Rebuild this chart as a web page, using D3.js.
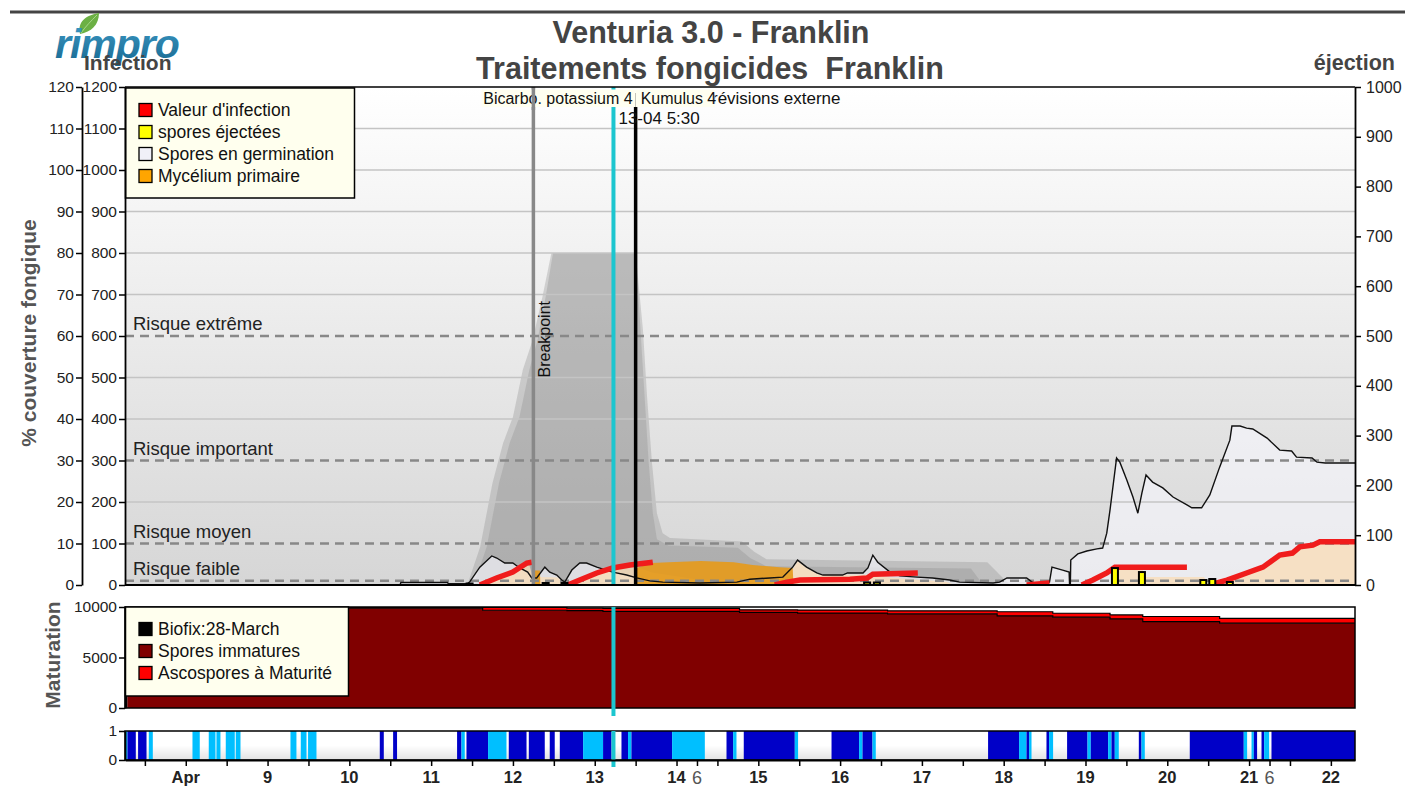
<!DOCTYPE html>
<html><head><meta charset="utf-8">
<script src="https://cdn.jsdelivr.net/npm/d3@7"></script>
<style>
body{margin:0;background:#fff;}
svg{font-family:"Liberation Sans",Arial,sans-serif;}
</style>
</head><body>
<svg id="c" width="1405" height="793"></svg>
<script>
// ---------------- DATA (x = day of April, decimal) ----------------
const dayDomain = [7.257, 22.295];
const dayLabels = [[8,"Apr"],[9,"9"],[10,"10"],[11,"11"],[12,"12"],[13,"13"],[14,"14"],[15,"15"],[16,"16"],[17,"17"],[18,"18"],[19,"19"],[20,"20"],[21,"21"],[22,"22"]];
const hourLabels = [[14.25,"6"],[21.25,"6"]];
const leftTicks = d3.range(0,1201,100);
const pctTicks = d3.range(0,121,10);
const rightTicks = d3.range(0,1001,100);
const matTicks = [0,5000,10000];
const wetTicks = [0,1];

const riskLevels = [[600,"Risque extrême"],[300,"Risque important"],[100,"Risque moyen"],[10,"Risque faible"]];
const gridValues = [200,400,500,700,800,900,1000,1100];

// Spores en germination (left scale 0-1200)
const germination = [[7.257,0],[10.62,0],[10.63,6],[11.2,6],[11.21,3],[11.44,3],[11.47,7],[11.595,43],[11.741,70],[11.802,65],[11.90,53],[11.998,53],[12.084,41],[12.18,31],[12.23,17],[12.29,17],[12.39,43],[12.45,31],[12.536,24],[12.597,12],[12.634,7],[12.72,36],[12.817,53],[12.90,53],[13.025,43],[13.22,31],[13.39,24],[13.514,17],[13.673,10],[13.832,7],[14.284,5],[14.737,7],[14.896,14],[15.14,17],[15.30,19],[15.42,43],[15.48,60],[15.59,43],[15.715,29],[15.79,24],[16.03,24],[16.09,29],[16.28,29],[16.34,41],[16.40,72],[16.46,55],[16.61,31],[16.73,22],[16.94,19],[17.13,17],[17.34,12],[17.46,7],[17.87,5],[17.95,7],[18.04,17],[18.28,17],[18.36,5],[18.53,5],[18.56,7],[18.59,43],[18.72,36],[18.80,31],[18.805,3],[18.815,3],[18.82,60],[18.906,75],[19.016,82],[19.14,87],[19.21,89],[19.26,125],[19.30,181],[19.38,306],[19.42,296],[19.505,253],[19.58,212],[19.64,173],[19.69,222],[19.74,265],[19.82,248],[19.945,234],[20.07,212],[20.24,193],[20.30,186],[20.42,186],[20.52,217],[20.64,284],[20.765,349],[20.79,383],[20.89,383],[20.97,378],[21.045,376],[21.22,354],[21.375,325],[21.52,323],[21.58,308],[21.77,306],[21.83,296],[21.93,294],[22.295,294]];

// light incubation fill under infection
const incubation = [[11.62,0],[11.75,12],[12.0,30],[12.2,48],[12.24,20],[12.55,18],[12.64,0],[12.72,8],[12.9,22],[13.1,33],[13.3,40],[13.5,45],[13.7,30],[14.3,12],[15.0,12],[15.35,15],[15.48,58],[15.6,40],[15.75,25],[16.3,25],[16.45,25],[16.6,18],[17.0,12],[17.3,8],[17.4,0],[19.32,0],[19.33,41],[19.7,41],[19.71,19],[20.45,19],[20.5,0],[20.52,0],[20.73,12],[20.97,29],[21.17,43],[21.375,72],[21.53,77],[21.62,92],[21.78,96],[21.865,104],[22.295,104]];

// Mycélium primaire
const mycelium = [[12.26,0],[12.265,35],[12.33,35],[12.335,0],[13.50,0],[13.505,41],[13.7,53],[13.9,55],[14.3,58],[14.7,55],[14.93,48],[15.26,43],[15.42,41],[15.43,0]];

// fungicide coverage (two treatments)
const coverBicarbo = [[11.40,0],[11.45,5],[11.6,92],[11.75,246],[11.88,342],[12.0,405],[12.12,518],[12.24,590],[12.36,694],[12.47,800],[13.5,800],[13.59,614],[13.64,453],[13.70,294],[13.76,173],[13.83,125],[13.92,113],[14.8,105],[14.95,80],[15.1,62],[17.8,55],[18.0,15],[18.08,0]];
const coverKumulus = [[11.52,0],[11.68,92],[11.83,246],[11.96,342],[12.08,405],[12.2,518],[12.3,590],[12.4,694],[12.49,800],[13.5,800],[13.56,614],[13.61,453],[13.66,294],[13.71,173],[13.76,110],[13.9,95],[14.75,90],[14.9,65],[15.1,45],[17.6,40],[17.75,0]];

// Valeur d'infection (segments)
const infection = [
 [[11.595,0],[11.80,17],[11.998,31],[12.17,53],[12.23,55]],
 [[12.67,0],[12.817,12],[13.025,29],[13.22,41],[13.43,48],[13.71,55]],
 [[15.20,0],[15.35,7],[15.51,12],[16.12,14],[16.33,17],[16.40,26],[16.95,29]],
 [[18.28,0],[18.56,5]],
 [[18.955,0],[19.09,12],[19.26,29],[19.36,43],[20.24,43]],
 [[20.52,0],[20.73,12],[20.97,29],[21.17,43],[21.375,72],[21.53,77],[21.62,92],[21.78,96],[21.865,104],[22.295,104]]
];

// spores éjectées (right scale 0-1000)
const ejection = [[11.47,3],[12.40,4],[12.63,4],[16.33,5],[16.45,5],[19.36,34],[19.69,26],[20.44,10],[20.55,12],[20.765,6]];

// markers
const breakpointDay = 12.25;
const nowDay = 13.229;      // 13-04 5:30
const treatmentDay = 13.5;

// Maturation (step values)
const matStart    = [7.285, 11.63, 12.66, 13.10, 14.77, 15.48, 16.58, 17.92, 18.60, 19.30, 19.70, 20.64];
const matTotal    = [9990, 9960, 9880, 9860, 9720, 9700, 9620, 9530, 9380, 9220, 9060, 8880];
const matImmature = [9880, 9680, 9650, 9560, 9460, 9400, 9320, 9120, 8990, 8820, 8560, 8400];
const biofix = [[7.257,10000],[7.285,10000]];

// wetness intervals [start, end, type] 2 = wet, 1 = light
const wetness = [[7.257,7.287,1],[7.287,7.389,2],[7.417,7.52,2],[7.548,7.597,1],[8.082,8.171,1],[8.281,8.363,1],[8.375,8.424,1],[8.489,8.599,1],[8.611,8.669,1],[9.28,9.353,1],[9.406,9.476,1],[9.495,9.598,1],[10.372,10.421,2],[10.535,10.583,2],[11.317,11.371,2],[11.371,11.411,1],[11.432,11.696,2],[11.696,11.921,1],[11.949,12.166,2],[12.194,12.389,2],[12.45,12.511,2],[12.573,12.858,2],[12.858,13.102,1],[13.102,13.205,2],[13.327,13.407,2],[13.407,13.449,1],[13.449,13.946,2],[13.946,14.346,1],[14.611,14.692,2],[14.692,14.733,1],[14.822,15.446,2],[15.446,15.486,1],[15.895,16.232,2],[16.232,16.274,1],[16.274,16.396,2],[16.396,16.436,1],[17.809,18.188,2],[18.188,18.279,1],[18.279,18.31,2],[18.31,18.34,1],[18.523,18.555,2],[18.555,18.604,1],[18.775,19.025,2],[19.025,19.065,1],[19.065,19.277,2],[19.277,19.318,1],[19.318,19.358,2],[19.358,19.407,1],[19.652,19.685,2],[19.685,19.725,1],[20.275,20.935,2],[20.935,20.976,1],[21.03,21.058,1],[21.058,21.098,2],[21.152,21.184,2],[21.184,21.245,1],[21.274,22.295,2]];

const legend1 = [["Valeur d'infection","#ff0000"],["spores éjectées","#ffff00"],["Spores en germination","#f0f0f8"],["Mycélium primaire","#ffa500"]];
const legend2 = [["Biofix:28-March","#000000"],["Spores immatures","#800000"],["Ascospores à Maturité","#ff0000"]];

// ---------------- LAYOUT ----------------
const L=125, R=1355, T=87, B=585, MT=607, MB=708, ST=731, SB=760;
const FONT='"Liberation Sans",Arial,sans-serif';
const svg = d3.select("#c");

const x = d3.scaleLinear().domain(dayDomain).range([L,R]);
const yL = d3.scaleLinear().domain([0,1200]).range([B,T]);
const yP = d3.scaleLinear().domain([0,120]).range([B,T]);
const yR = d3.scaleLinear().domain([0,1000]).range([B,T]);
const yM = d3.scaleLinear().domain([0,10000]).range([MB,MT]);
const yW = d3.scaleLinear().domain([0,1]).range([SB,ST]);
const fmt = d3.format("d");

const defs = svg.append("defs");
const g1 = defs.append("linearGradient").attr("id","bgMain").attr("x1",0).attr("y1",0).attr("x2",0).attr("y2",1);
g1.append("stop").attr("offset","0%").attr("stop-color","#ffffff");
g1.append("stop").attr("offset","100%").attr("stop-color","#d6d6d6");
const g2 = defs.append("linearGradient").attr("id","bgStrip").attr("x1",0).attr("y1",0).attr("x2",0).attr("y2",1);
g2.append("stop").attr("offset","0%").attr("stop-color","#ffffff");
g2.append("stop").attr("offset","50%").attr("stop-color","#ffffff");
g2.append("stop").attr("offset","100%").attr("stop-color","#e2e2e2");
const g3 = defs.append("linearGradient").attr("id","logoG").attr("x1",0).attr("y1",0).attr("x2",0).attr("y2",1);
g3.append("stop").attr("offset","0%").attr("stop-color","#3d9ac6");
g3.append("stop").attr("offset","100%").attr("stop-color","#17678f");
defs.append("clipPath").attr("id","clipMain").append("rect").attr("x",L).attr("y",T).attr("width",R-L).attr("height",B-T);
defs.append("clipPath").attr("id","clipMat").append("rect").attr("x",L).attr("y",MT).attr("width",R-L).attr("height",MB-MT);

// top rule
svg.append("line").attr("x1",10).attr("x2",1405).attr("y1",12).attr("y2",12).attr("stroke","#444").attr("stroke-width",3);

// logo
svg.append("path").attr("d","M80,34 C77,22 86,15 99,13 C99,25 91,32 80,34 Z").attr("fill","#6cb044");
svg.append("path").attr("d","M81,33 C86,26 91,21 97,15").attr("stroke","#a8d88a").attr("stroke-width",1).attr("fill","none");
svg.append("text").attr("x",55).attr("y",58).attr("font-family",FONT).attr("font-size",41).attr("font-weight","bold").attr("font-style","italic").attr("letter-spacing",-1).attr("fill","url(#logoG)").text("rimpro");

// titles
svg.append("text").attr("x",711).attr("y",43).attr("text-anchor","middle").attr("font-family",FONT).attr("font-weight","bold").attr("font-size",30.5).attr("fill","#444").text("Venturia 3.0 - Franklin");
svg.append("text").attr("x",710).attr("y",79).attr("text-anchor","middle").attr("font-family",FONT).attr("font-weight","bold").attr("font-size",30.5).attr("fill","#444").style("white-space","pre").text("Traitements fongicides  Franklin");
svg.append("text").attr("x",84).attr("y",70).attr("font-family",FONT).attr("font-weight","bold").attr("font-size",21).attr("fill","#444").text("Infection");
svg.append("text").attr("x",1395).attr("y",70).attr("text-anchor","end").attr("font-family",FONT).attr("font-weight","bold").attr("font-size",21.5).attr("fill","#444").text("éjection");

// main background
svg.append("rect").attr("x",L).attr("y",T).attr("width",R-L).attr("height",B-T).attr("fill","url(#bgMain)");

const main = svg.append("g").attr("clip-path","url(#clipMain)");
const areaL = d3.area().x(d=>x(d[0])).y0(yL(0)).y1(d=>yL(d[1]));
const lineL = d3.line().x(d=>x(d[0])).y(d=>yL(d[1]));

[coverBicarbo, coverKumulus].forEach(c=>{
  main.append("path").datum(c).attr("d",areaL).attr("fill","#8c8c8c").attr("fill-opacity",0.32);
});
main.append("path").datum(germination).attr("d",areaL).attr("fill","#f4f4fa").attr("fill-opacity",0.68);
main.append("path").datum(incubation).attr("d",areaL).attr("fill","#f9dcb6").attr("fill-opacity",0.75);
main.append("path").datum(mycelium).attr("d",areaL).attr("fill","#e59a1c").attr("fill-opacity",0.92);
// grid
main.selectAll(".grid").data(gridValues).enter().append("line")
  .attr("x1",L).attr("x2",R).attr("y1",d=>yL(d)).attr("y2",d=>yL(d))
  .attr("stroke","#c4c4c4").attr("stroke-width",1.3);
// risk lines
main.selectAll(".risk").data(riskLevels).enter().append("line")
  .attr("x1",L).attr("x2",R).attr("y1",d=>yL(d[0])).attr("y2",d=>yL(d[0]))
  .attr("stroke","#888").attr("stroke-width",2.5).attr("stroke-dasharray","9,6");
svg.selectAll(".risklab").data(riskLevels).enter().append("text")
  .attr("x",L+8).attr("y",d=>yL(d[0])-6).attr("font-family",FONT).attr("font-size",18.5).attr("fill","#222").text(d=>d[1]);

// germination outline
main.append("path").datum(germination).attr("d",lineL).attr("fill","none").attr("stroke","#111").attr("stroke-width",1.4);
// infection
infection.forEach(seg=>{
  main.append("path").datum(seg).attr("d",lineL).attr("fill","none").attr("stroke","#f01c1c").attr("stroke-width",5.5);
});
// ejection bars
main.selectAll(".ej").data(ejection).enter().append("rect")
  .attr("x",d=>x(d[0])-3).attr("width",6).attr("y",d=>yR(d[1])).attr("height",d=>B-yR(d[1]))
  .attr("fill","#ffff00").attr("stroke","#000").attr("stroke-width",2);

// markers
svg.append("line").attr("x1",x(breakpointDay)).attr("x2",x(breakpointDay)).attr("y1",T).attr("y2",B).attr("stroke","#888").attr("stroke-width",3.5);
svg.append("text").attr("transform",`translate(${x(breakpointDay)+17},${yL(500)}) rotate(-90)`).attr("font-family",FONT).attr("font-size",16).attr("fill","#111").text("Breakpoint");
svg.append("line").attr("x1",x(treatmentDay)).attr("x2",x(treatmentDay)).attr("y1",T+6).attr("y2",B).attr("stroke","#000").attr("stroke-width",3.5);
svg.append("line").attr("x1",x(nowDay)).attr("x2",x(nowDay)).attr("y1",T).attr("y2",B).attr("stroke","#1cc6cf").attr("stroke-width",4);
// treatment labels
svg.append("text").attr("x",x(treatmentDay)+65).attr("y",104).attr("font-family",FONT).attr("font-size",17).attr("fill","#111").text("Prévisions externe");
svg.append("rect").attr("x",x(treatmentDay)-154).attr("y",89.5).attr("width",154).attr("height",17.5).attr("fill","#fffff0");
svg.append("rect").attr("x",x(treatmentDay)).attr("y",89.5).attr("width",79).attr("height",17.5).attr("fill","#fffff0");
svg.append("text").attr("x",x(treatmentDay)-3).attr("y",104).attr("text-anchor","end").attr("font-family",FONT).attr("font-size",16).attr("fill","#111").text("Bicarbo. potassium 4");
svg.append("text").attr("x",x(treatmentDay)+5).attr("y",104).attr("font-family",FONT).attr("font-size",16).attr("fill","#111").text("Kumulus 4");
svg.append("line").attr("x1",x(breakpointDay)).attr("x2",x(breakpointDay)).attr("y1",T).attr("y2",110).attr("stroke","#888").attr("stroke-width",3.5);
svg.append("text").attr("x",x(nowDay)+5).attr("y",124).attr("font-family",FONT).attr("font-size",17).attr("fill","#111").text("13-04 5:30");

// legend 1
const lg1 = svg.append("g");
lg1.append("rect").attr("x",L+0.5).attr("y",T+1).attr("width",229).attr("height",110).attr("fill","#ffffee").attr("stroke","#000").attr("stroke-width",1.5);
legend1.forEach((d,i)=>{
  const cy = 110 + i*22;
  lg1.append("rect").attr("x",139).attr("y",cy-6.5).attr("width",13).attr("height",13).attr("fill",d[1]).attr("stroke","#000").attr("stroke-width",1.3);
  lg1.append("text").attr("x",158).attr("y",cy+6).attr("font-family",FONT).attr("font-size",17.5).attr("fill","#111").text(d[0]);
});

// axes main
function styleAxis(g, fs){
  g.attr("font-family",FONT).attr("font-size",fs);
  g.selectAll("text").attr("fill","#222");
  g.selectAll("line").attr("stroke","#000").attr("stroke-width",1.5);
  g.select(".domain").attr("stroke","#000").attr("stroke-width",1.8);
}
styleAxis(svg.append("g").attr("transform",`translate(${L},0)`).call(d3.axisLeft(yL).tickValues(leftTicks).tickFormat(fmt).tickSize(6).tickPadding(2).tickSizeOuter(0)),15.5);
styleAxis(svg.append("g").attr("transform",`translate(82,0)`).call(d3.axisLeft(yP).tickValues(pctTicks).tickFormat(fmt).tickSize(6).tickPadding(2).tickSizeOuter(0)),15.5);
styleAxis(svg.append("g").attr("transform",`translate(${R},0)`).call(d3.axisRight(yR).tickValues(rightTicks).tickFormat(fmt).tickSize(6).tickPadding(5).tickSizeOuter(0)),16);
svg.append("line").attr("x1",L).attr("x2",R).attr("y1",T).attr("y2",T).attr("stroke","#000").attr("stroke-width",1.5);
svg.append("line").attr("x1",L).attr("x2",R).attr("y1",B).attr("y2",B).attr("stroke","#000").attr("stroke-width",2);
svg.append("text").attr("transform",`translate(36,333) rotate(-90)`).attr("text-anchor","middle").attr("font-family",FONT).attr("font-weight","bold").attr("font-size",21).attr("fill","#555").text("% couverture fongique");

// ---------------- Maturation panel ----------------
svg.append("rect").attr("x",L).attr("y",MT).attr("width",R-L).attr("height",MB-MT).attr("fill","#fff");
const matData = matStart.map((d,i)=>({d:d,t:matTotal[i],im:matImmature[i]}));
matData.push({d:dayDomain[1],t:matTotal[matTotal.length-1],im:matImmature[matImmature.length-1]});
const mat = svg.append("g").attr("clip-path","url(#clipMat)");
mat.append("path").datum(matData).attr("d",d3.area().curve(d3.curveStepAfter).x(d=>x(d.d)).y0(d=>yM(d.im)).y1(d=>yM(d.t))).attr("fill","#ff0000");
mat.append("path").datum(matData).attr("d",d3.area().curve(d3.curveStepAfter).x(d=>x(d.d)).y0(yM(0)).y1(d=>yM(d.im))).attr("fill","#800000");
mat.append("path").datum(matData).attr("d",d3.line().curve(d3.curveStepAfter).x(d=>x(d.d)).y(d=>yM(d.t))).attr("fill","none").attr("stroke","#000").attr("stroke-width",1.2);
mat.append("path").datum(matData).attr("d",d3.line().curve(d3.curveStepAfter).x(d=>x(d.d)).y(d=>yM(d.im))).attr("fill","none").attr("stroke","#000").attr("stroke-width",1.2);
mat.append("path").datum(biofix).attr("d",d3.area().x(d=>x(d[0])).y0(yM(0)).y1(d=>yM(d[1]))).attr("fill","#000");
svg.append("rect").attr("x",L).attr("y",MT).attr("width",R-L).attr("height",MB-MT).attr("fill","none").attr("stroke","#000").attr("stroke-width",1.5);
styleAxis(svg.append("g").attr("transform",`translate(${L},0)`).call(d3.axisLeft(yM).tickValues(matTicks).tickFormat(fmt).tickSize(6).tickPadding(2).tickSizeOuter(0)),15.5);
svg.append("text").attr("transform",`translate(60,655) rotate(-90)`).attr("text-anchor","middle").attr("font-family",FONT).attr("font-weight","bold").attr("font-size",21).attr("fill","#555").text("Maturation");
const lg2 = svg.append("g");
lg2.append("rect").attr("x",L+0.5).attr("y",MT).attr("width",223).attr("height",89).attr("fill","#ffffee").attr("stroke","#000").attr("stroke-width",1.5);
legend2.forEach((d,i)=>{
  const cy = 629 + i*22;
  lg2.append("rect").attr("x",139).attr("y",cy-6.5).attr("width",13).attr("height",13).attr("fill",d[1]).attr("stroke","#000").attr("stroke-width",1.3);
  lg2.append("text").attr("x",158).attr("y",cy+6).attr("font-family",FONT).attr("font-size",17.5).attr("fill","#111").text(d[0]);
});
svg.append("line").attr("x1",x(nowDay)).attr("x2",x(nowDay)).attr("y1",MT).attr("y2",716).attr("stroke","#1cc6cf").attr("stroke-width",4);

// ---------------- Wetness strip ----------------
svg.append("rect").attr("x",L).attr("y",ST).attr("width",R-L).attr("height",SB-ST).attr("fill","url(#bgStrip)");
svg.selectAll(".wet").data(wetness).enter().append("rect")
  .attr("x",d=>x(d[0])).attr("width",d=>Math.max(0.5,x(d[1])-x(d[0])))
  .attr("y",yW(1)).attr("height",yW(0)-yW(1))
  .attr("fill",d=>d[2]===2?"#0000c8":"#00bfff");
svg.append("rect").attr("x",L).attr("y",ST).attr("width",R-L).attr("height",SB-ST).attr("fill","none").attr("stroke","#000").attr("stroke-width",1.5);
styleAxis(svg.append("g").attr("transform",`translate(${L},0)`).call(d3.axisLeft(yW).tickValues(wetTicks).tickFormat(fmt).tickSize(6).tickPadding(2).tickSizeOuter(0)),15.5);
svg.append("line").attr("x1",x(nowDay)).attr("x2",x(nowDay)).attr("y1",ST).attr("y2",767).attr("stroke","#1cc6cf").attr("stroke-width",4);

// x axis
const xTicks = d3.range(7.5,22.01,0.5).concat(hourLabels.map(d=>d[0]));
const xa = svg.append("g").attr("transform",`translate(0,${SB})`).call(d3.axisBottom(x).tickValues(xTicks).tickSize(6).tickFormat(()=>"").tickSizeOuter(0));
styleAxis(xa,15);
svg.selectAll(".dlab").data(dayLabels).enter().append("text")
  .attr("x",d=>x(d[0])).attr("y",783).attr("text-anchor","middle").attr("font-family",FONT).attr("font-weight","bold").attr("font-size",16.5).attr("fill","#222").text(d=>d[1]);
svg.selectAll(".hlab").data(hourLabels).enter().append("text")
  .attr("x",d=>x(d[0])).attr("y",784).attr("text-anchor","middle").attr("font-family",FONT).attr("font-size",18).attr("fill","#555").text(d=>d[1]);
</script>
</body></html>
